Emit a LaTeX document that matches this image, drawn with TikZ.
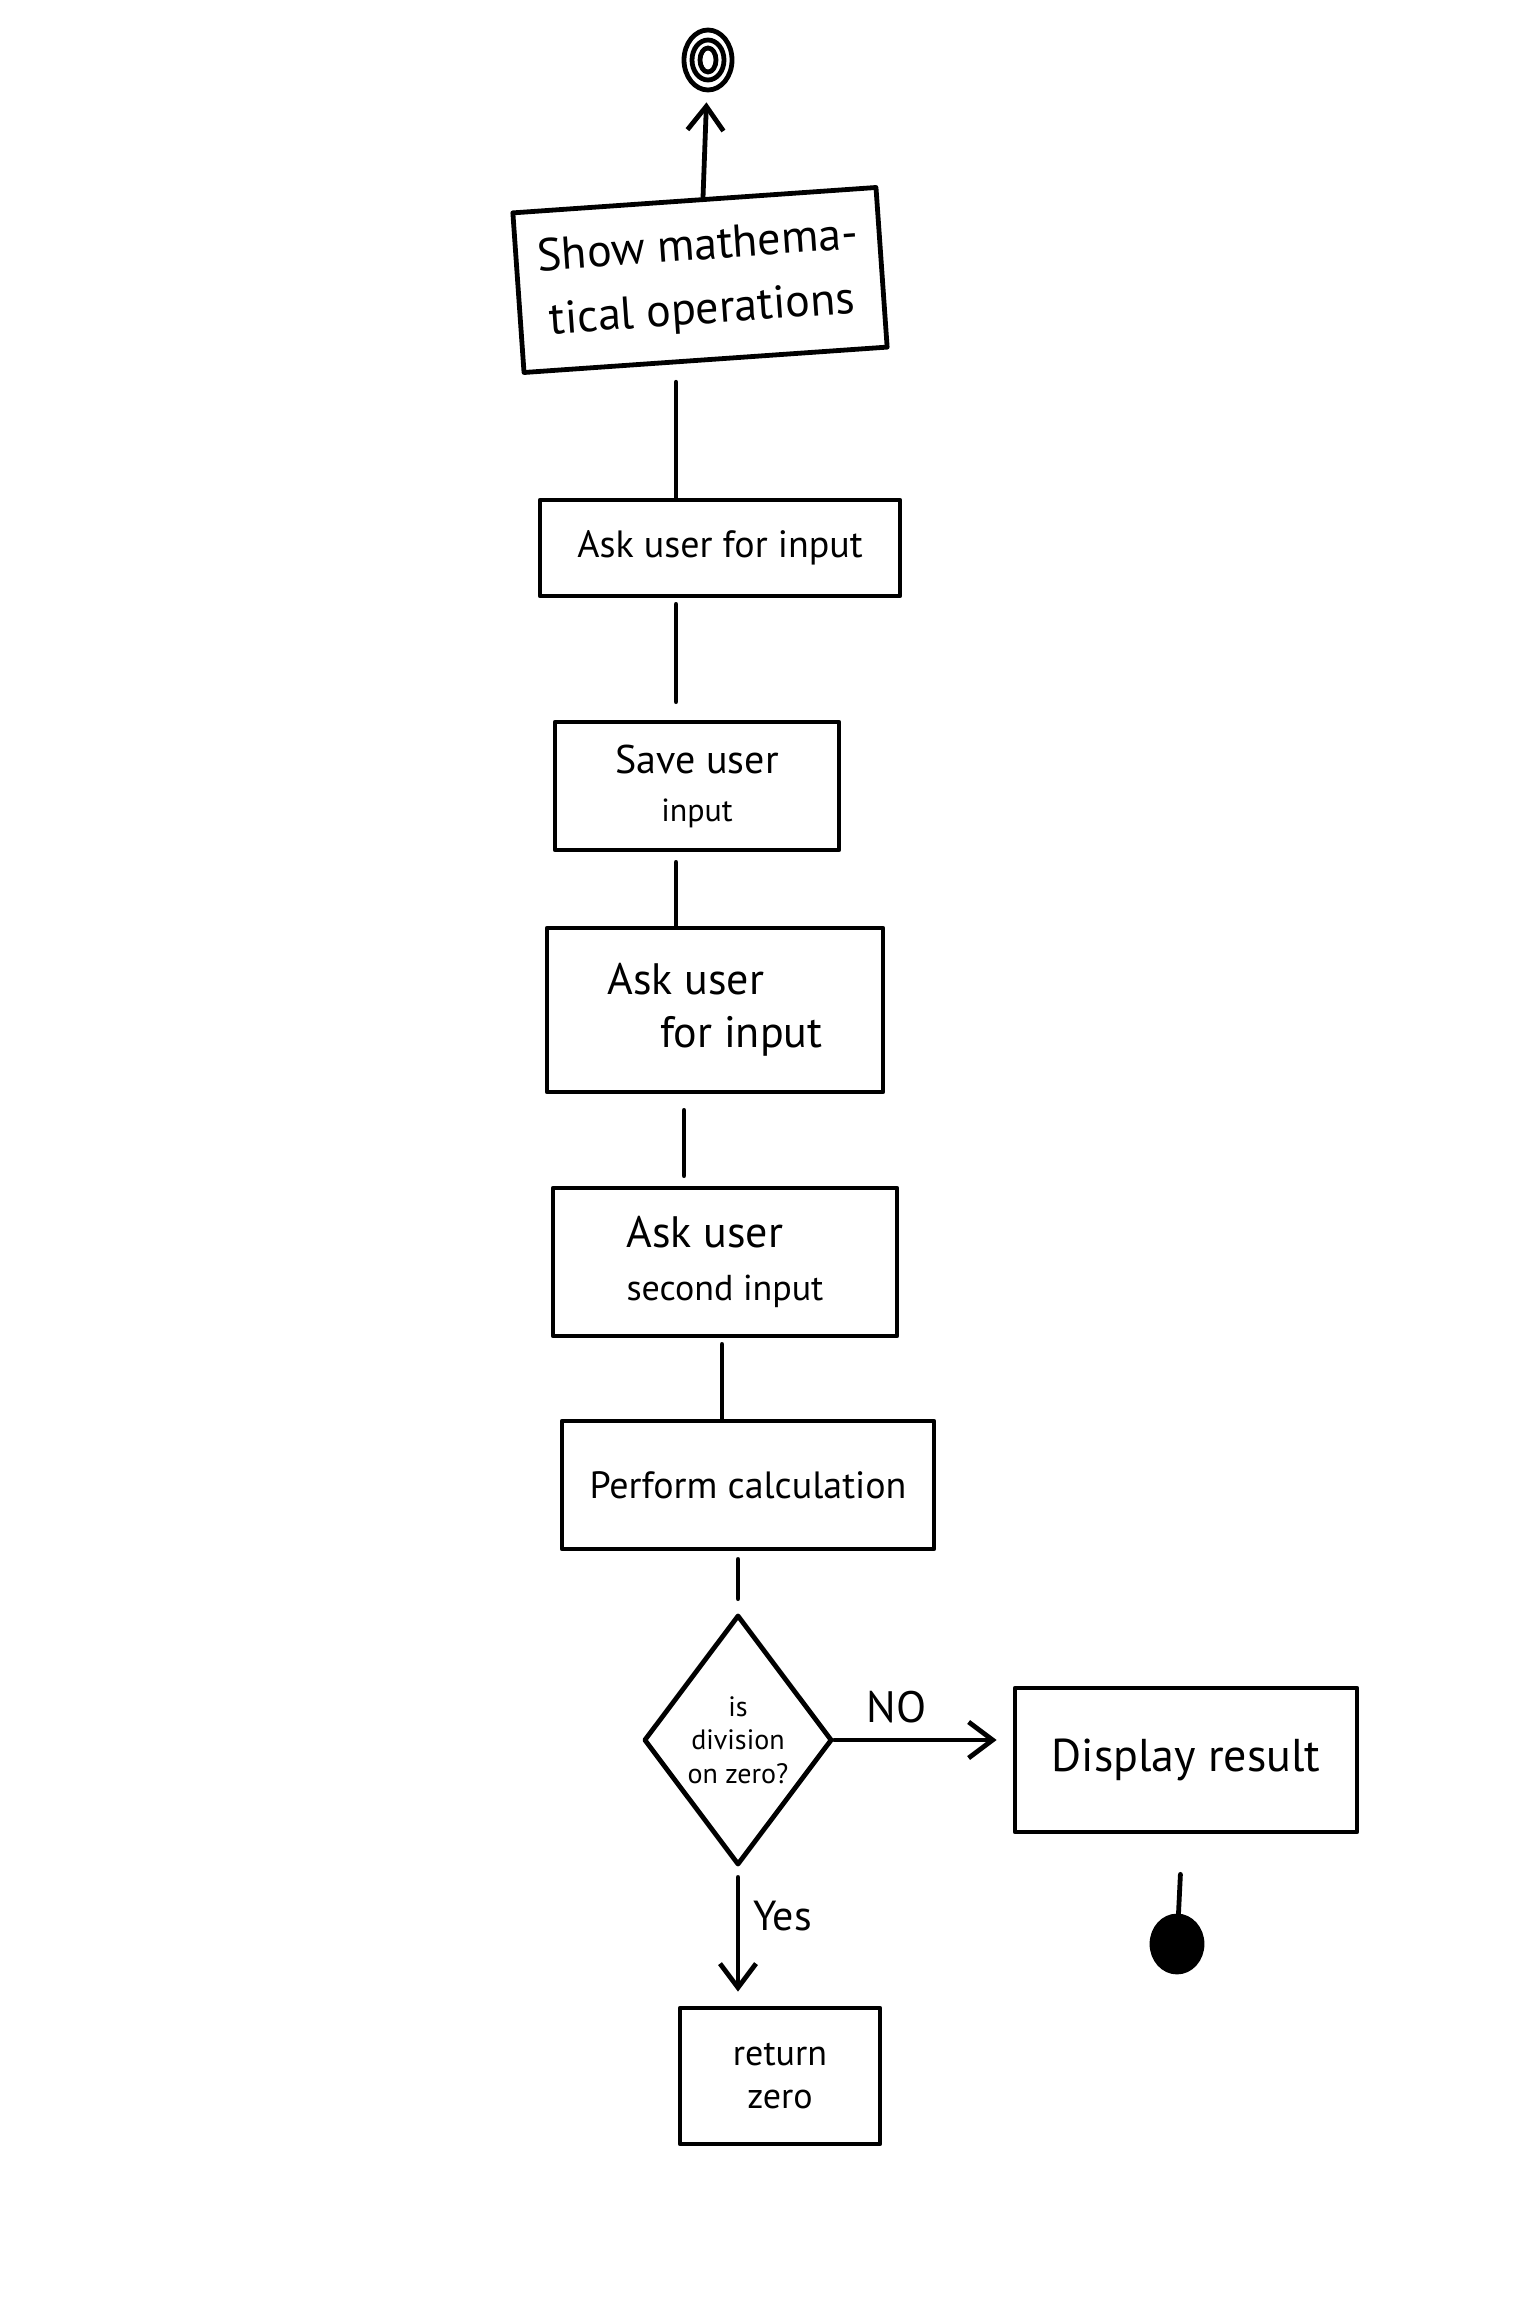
\documentclass[tikz,border=0pt]{standalone}
\usepackage{fontspec}
\setmainfont{PT Sans}
\usetikzlibrary{shapes.geometric,arrows.meta}
\newcommand{\fs}[1]{\fontsize{#1pt}{\dimexpr #1pt*6/5\relax}\selectfont}
\begin{document}
\begin{tikzpicture}[x=0.5pt,y=-0.5pt,
  ink/.style={line width=2.4pt, draw=black, line cap=round, line join=round},
  box/.style={ink, rectangle, align=center, inner sep=4pt},
  flow/.style={ink},
  arrowflow/.style={ink, -{Straight Barb[length=12pt,width=18pt,line width=2.4pt]}},
]
\fill[white] (0,0) rectangle (1536,2306);
\useasboundingbox (0,0) rectangle (1536,2306);

% columns along which the vertical connectors run
\coordinate (colA) at (676,0);
\coordinate (colB) at (684,0);
\coordinate (colC) at (722,0);

% terminals
\node[ink, ellipse, minimum width=24pt, minimum height=30pt, inner sep=0] (start) at (708,60) {};
\draw[ink] (start.center) ellipse [x radius=8pt, y radius=10pt];
\draw[ink] (start.center) ellipse [x radius=4pt, y radius=6pt];

% activity boxes
\node[box, rotate=4, minimum width=182pt, minimum height=80pt, font=\fontsize{23pt}{32pt}\selectfont] (b1) at (700,280)
  {Show mathema-\\tical operations};
\node[box, minimum width=180pt, minimum height=48pt, font=\fs{19}] (b2) at (720,548)
  {Ask user for input};
\node[box, minimum width=142pt, minimum height=64pt, font=\fs{20}] (b3) at (697,786)
  {Save user\\{\fs{16}input}};
\node[box, minimum width=168pt, minimum height=82pt, font=\fs{22}, align=left] (b4) at (715,1010)
  {Ask user\\\hspace*{1.2em}for input};
\node[box, minimum width=172pt, minimum height=74pt, font=\fs{22}, align=left] (b5) at (725,1262)
  {Ask user\\{\fs{18}second input}};
\node[box, minimum width=186pt, minimum height=64pt, font=\fs{19}] (b6) at (748,1485)
  {Perform calculation};

% decision
\node[ink, diamond, minimum width=92pt, minimum height=125pt, inner sep=0, align=center, font=\fs{14}] (dia) at (738,1740)
  {is\\division\\on zero?};

\node[box, minimum width=171pt, minimum height=72pt, font=\fs{23}] (disp) at (1186,1760)
  {Display result};
\node[box, minimum width=100pt, minimum height=68pt, font=\fs{18}] (ret) at (780,2076)
  {return\\zero};

\node[ink, fill=black, ellipse, minimum width=25pt, minimum height=28pt, inner sep=0] (end) at (1177,1944) {};

% connectors
\draw[arrowflow, shorten >=5pt] (b1) -- (start);
\draw[flow, shorten <=10pt] (b1.south -| colA) -- (b2.north -| colA);
\draw[flow, shorten <=3pt, shorten >=9pt] (b2.south -| colA) -- (b3.north -| colA);
\draw[flow, shorten <=5pt] (b3.south -| colA) -- (b4.north -| colA);
\draw[flow, shorten <=8pt, shorten >=5pt] (b4.south -| colB) -- (b5.north -| colB);
\draw[flow, shorten <=3pt] (b5.south -| colC) -- (b6.north -| colC);
\draw[flow, shorten <=4pt, shorten >=7pt] (b6.south -| dia.north) -- (dia.north);
\draw[arrowflow, shorten >=8pt] (dia.east) -- (dia.east -| disp.west)
  node[pos=0.35, above=4pt, font=\fs{22}] (no) {NO};
\draw[arrowflow, shorten <=5pt, shorten >=7pt] (dia.south) -- (dia.south |- ret.north)
  node[pos=0.35, right=3pt, font=\fs{21}] (yes) {Yes};
\draw[flow, shorten <=20pt] (disp) -- (end);
\end{tikzpicture}
\end{document}
